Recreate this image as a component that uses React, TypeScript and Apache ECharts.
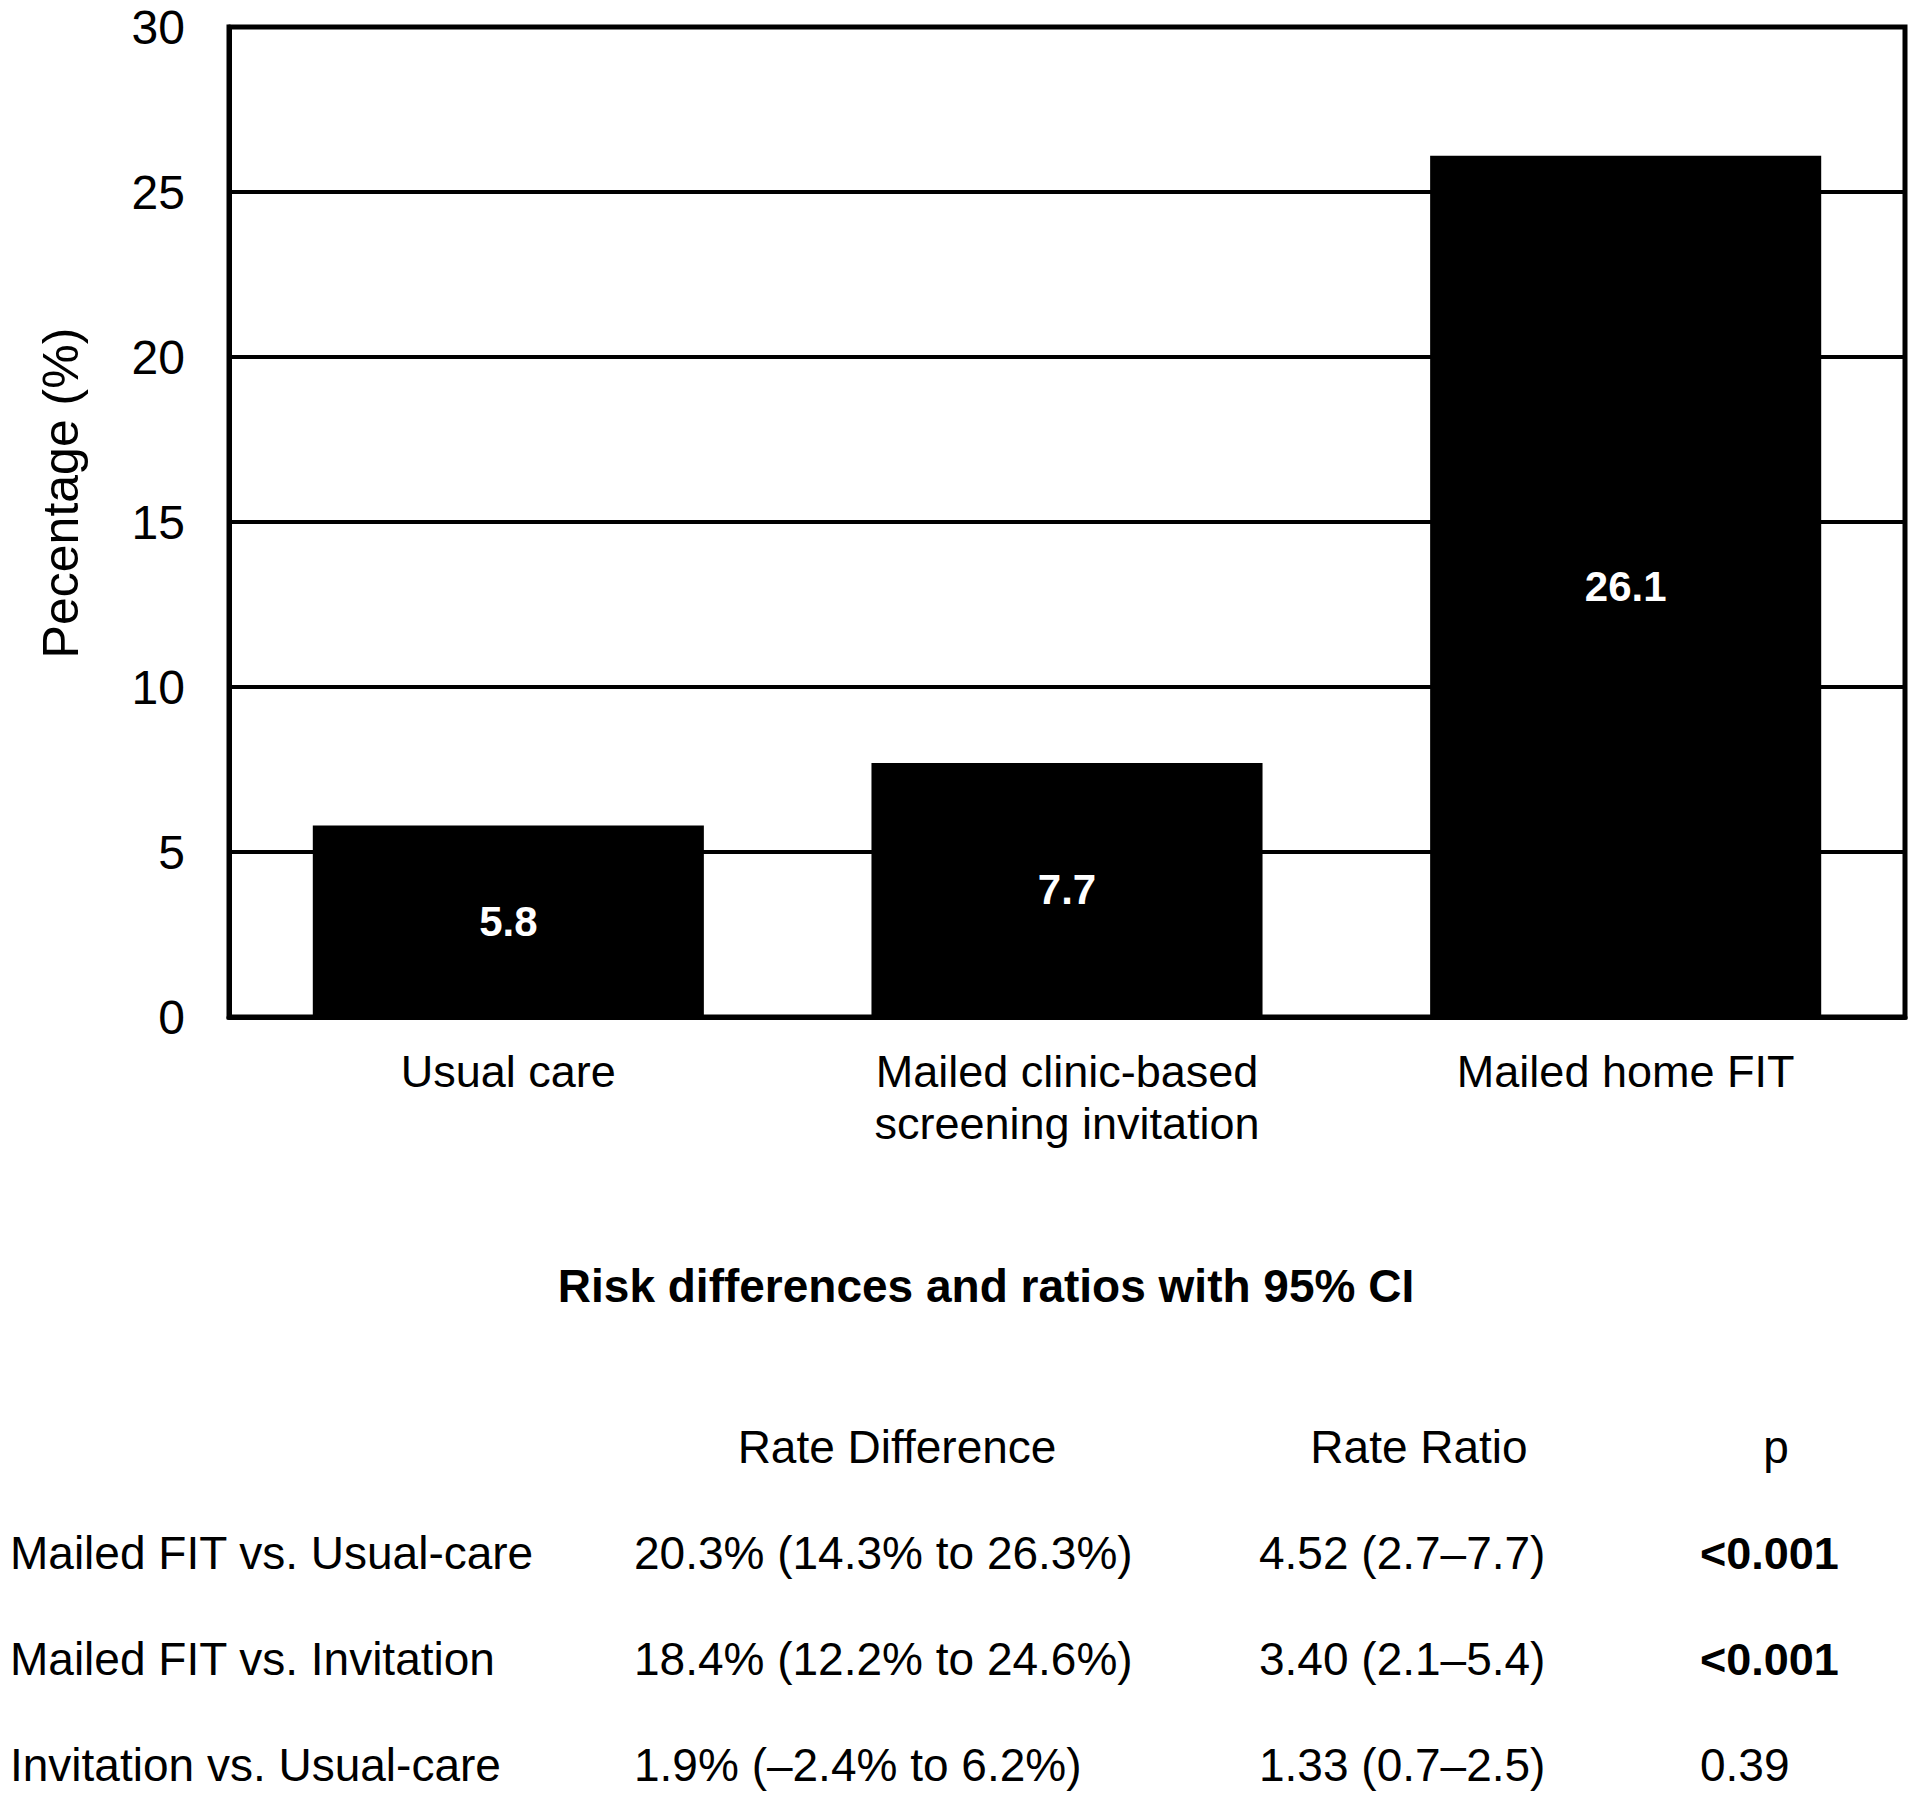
import React, { useEffect, useRef } from "react";
import * as echarts from "echarts";

const FONT = '"Liberation Sans", Arial, Helvetica, sans-serif';

const categories = ["Usual care", "Mailed clinic-based\nscreening invitation", "Mailed home FIT"];
const percentages = [5.8, 7.7, 26.1];
const yMin = 0;
const yMax = 30;
const yInterval = 5;
const yAxisName = "Pecentage (%)";

const tableTitle = "Risk differences and ratios with 95% CI";
const tableHeaders = ["Rate Difference", "Rate Ratio", "p"];
const comparisons = ["Mailed FIT vs. Usual-care", "Mailed FIT vs. Invitation", "Invitation vs. Usual-care"];
const rateDifferences = ["20.3% (14.3% to 26.3%)", "18.4% (12.2% to 24.6%)", "1.9% (\u20132.4% to 6.2%)"];
const rateRatios = ["4.52 (2.7\u20137.7)", "3.40 (2.1\u20135.4)", "1.33 (0.7\u20132.5)"];
const pValues = ["<0.001", "<0.001", "0.39"];
const pBold = [true, true, false];

export default function App() {
  const ref = useRef<HTMLDivElement>(null);

  useEffect(() => {
    document.body.style.margin = "0";
    const chart = echarts.init(ref.current as HTMLDivElement, null, { renderer: "svg" });

    const rowY = [1553, 1659, 1765];
    const colX = [10, 634, 1259, 1700];
    const textBase = { fontFamily: FONT, fill: "#000", fontSize: 46 };

    const graphics: any[] = [
      {
        type: "text",
        x: 61,
        y: 493,
        rotation: Math.PI / 2,
        style: { ...textBase, text: yAxisName, fontSize: 50, align: "center", verticalAlign: "middle" },
      },
      {
        type: "text",
        x: 986,
        y: 1286,
        style: { ...textBase, text: tableTitle, fontWeight: "bold", align: "center", verticalAlign: "middle" },
      },
      {
        type: "text",
        x: 897,
        y: 1447,
        style: { ...textBase, text: tableHeaders[0], align: "center", verticalAlign: "middle" },
      },
      {
        type: "text",
        x: 1419,
        y: 1447,
        style: { ...textBase, text: tableHeaders[1], align: "center", verticalAlign: "middle" },
      },
      {
        type: "text",
        x: 1776,
        y: 1447,
        style: { ...textBase, text: tableHeaders[2], align: "center", verticalAlign: "middle" },
      },
    ];

    comparisons.forEach((c, i) => {
      const cells = [c, rateDifferences[i], rateRatios[i], pValues[i]];
      cells.forEach((t, j) => {
        graphics.push({
          type: "text",
          x: colX[j],
          y: rowY[i],
          style: {
            ...textBase,
            text: t,
            fontWeight: j === 3 && pBold[i] ? "bold" : "normal",
            fontSize: j === 3 && pBold[i] ? 45 : 46,
            align: "left",
            verticalAlign: "middle",
          },
        });
      });
    });

    chart.setOption({
      animation: false,
      backgroundColor: "#fff",
      grid: {
        left: 229,
        right: 15,
        top: 27,
        bottom: 787,
        containLabel: false,
        show: true,
        borderColor: "#000",
        borderWidth: 5,
        backgroundColor: "transparent",
      },
      xAxis: {
        type: "category",
        data: categories,
        axisLine: { show: true, lineStyle: { color: "#000", width: 5 } },
        axisTick: { show: false },
        axisLabel: {
          color: "#000",
          fontFamily: FONT,
          fontSize: 45,
          lineHeight: 52,
          margin: 28,
          interval: 0,
        },
      },
      yAxis: {
        type: "value",
        min: yMin,
        max: yMax,
        interval: yInterval,
        axisLine: { show: true, lineStyle: { color: "#000", width: 5 } },
        axisTick: { show: false },
        axisLabel: { color: "#000", fontFamily: FONT, fontSize: 48, margin: 44 },
        splitLine: { show: true, lineStyle: { color: "#000", width: 4 } },
      },
      series: [
        {
          type: "bar",
          data: percentages,
          barWidth: "70%",
          itemStyle: { color: "#000" },
          label: {
            show: true,
            position: "inside",
            color: "#fff",
            fontFamily: FONT,
            fontWeight: "bold",
            fontSize: 42,
            formatter: (p: any) => String(p.value),
          },
          z: 3,
        },
      ],
      graphic: graphics,
    });

    return () => {
      chart.dispose();
    };
  }, []);

  return <div ref={ref} style={{ width: 1920, height: 1804 }} />;
}
